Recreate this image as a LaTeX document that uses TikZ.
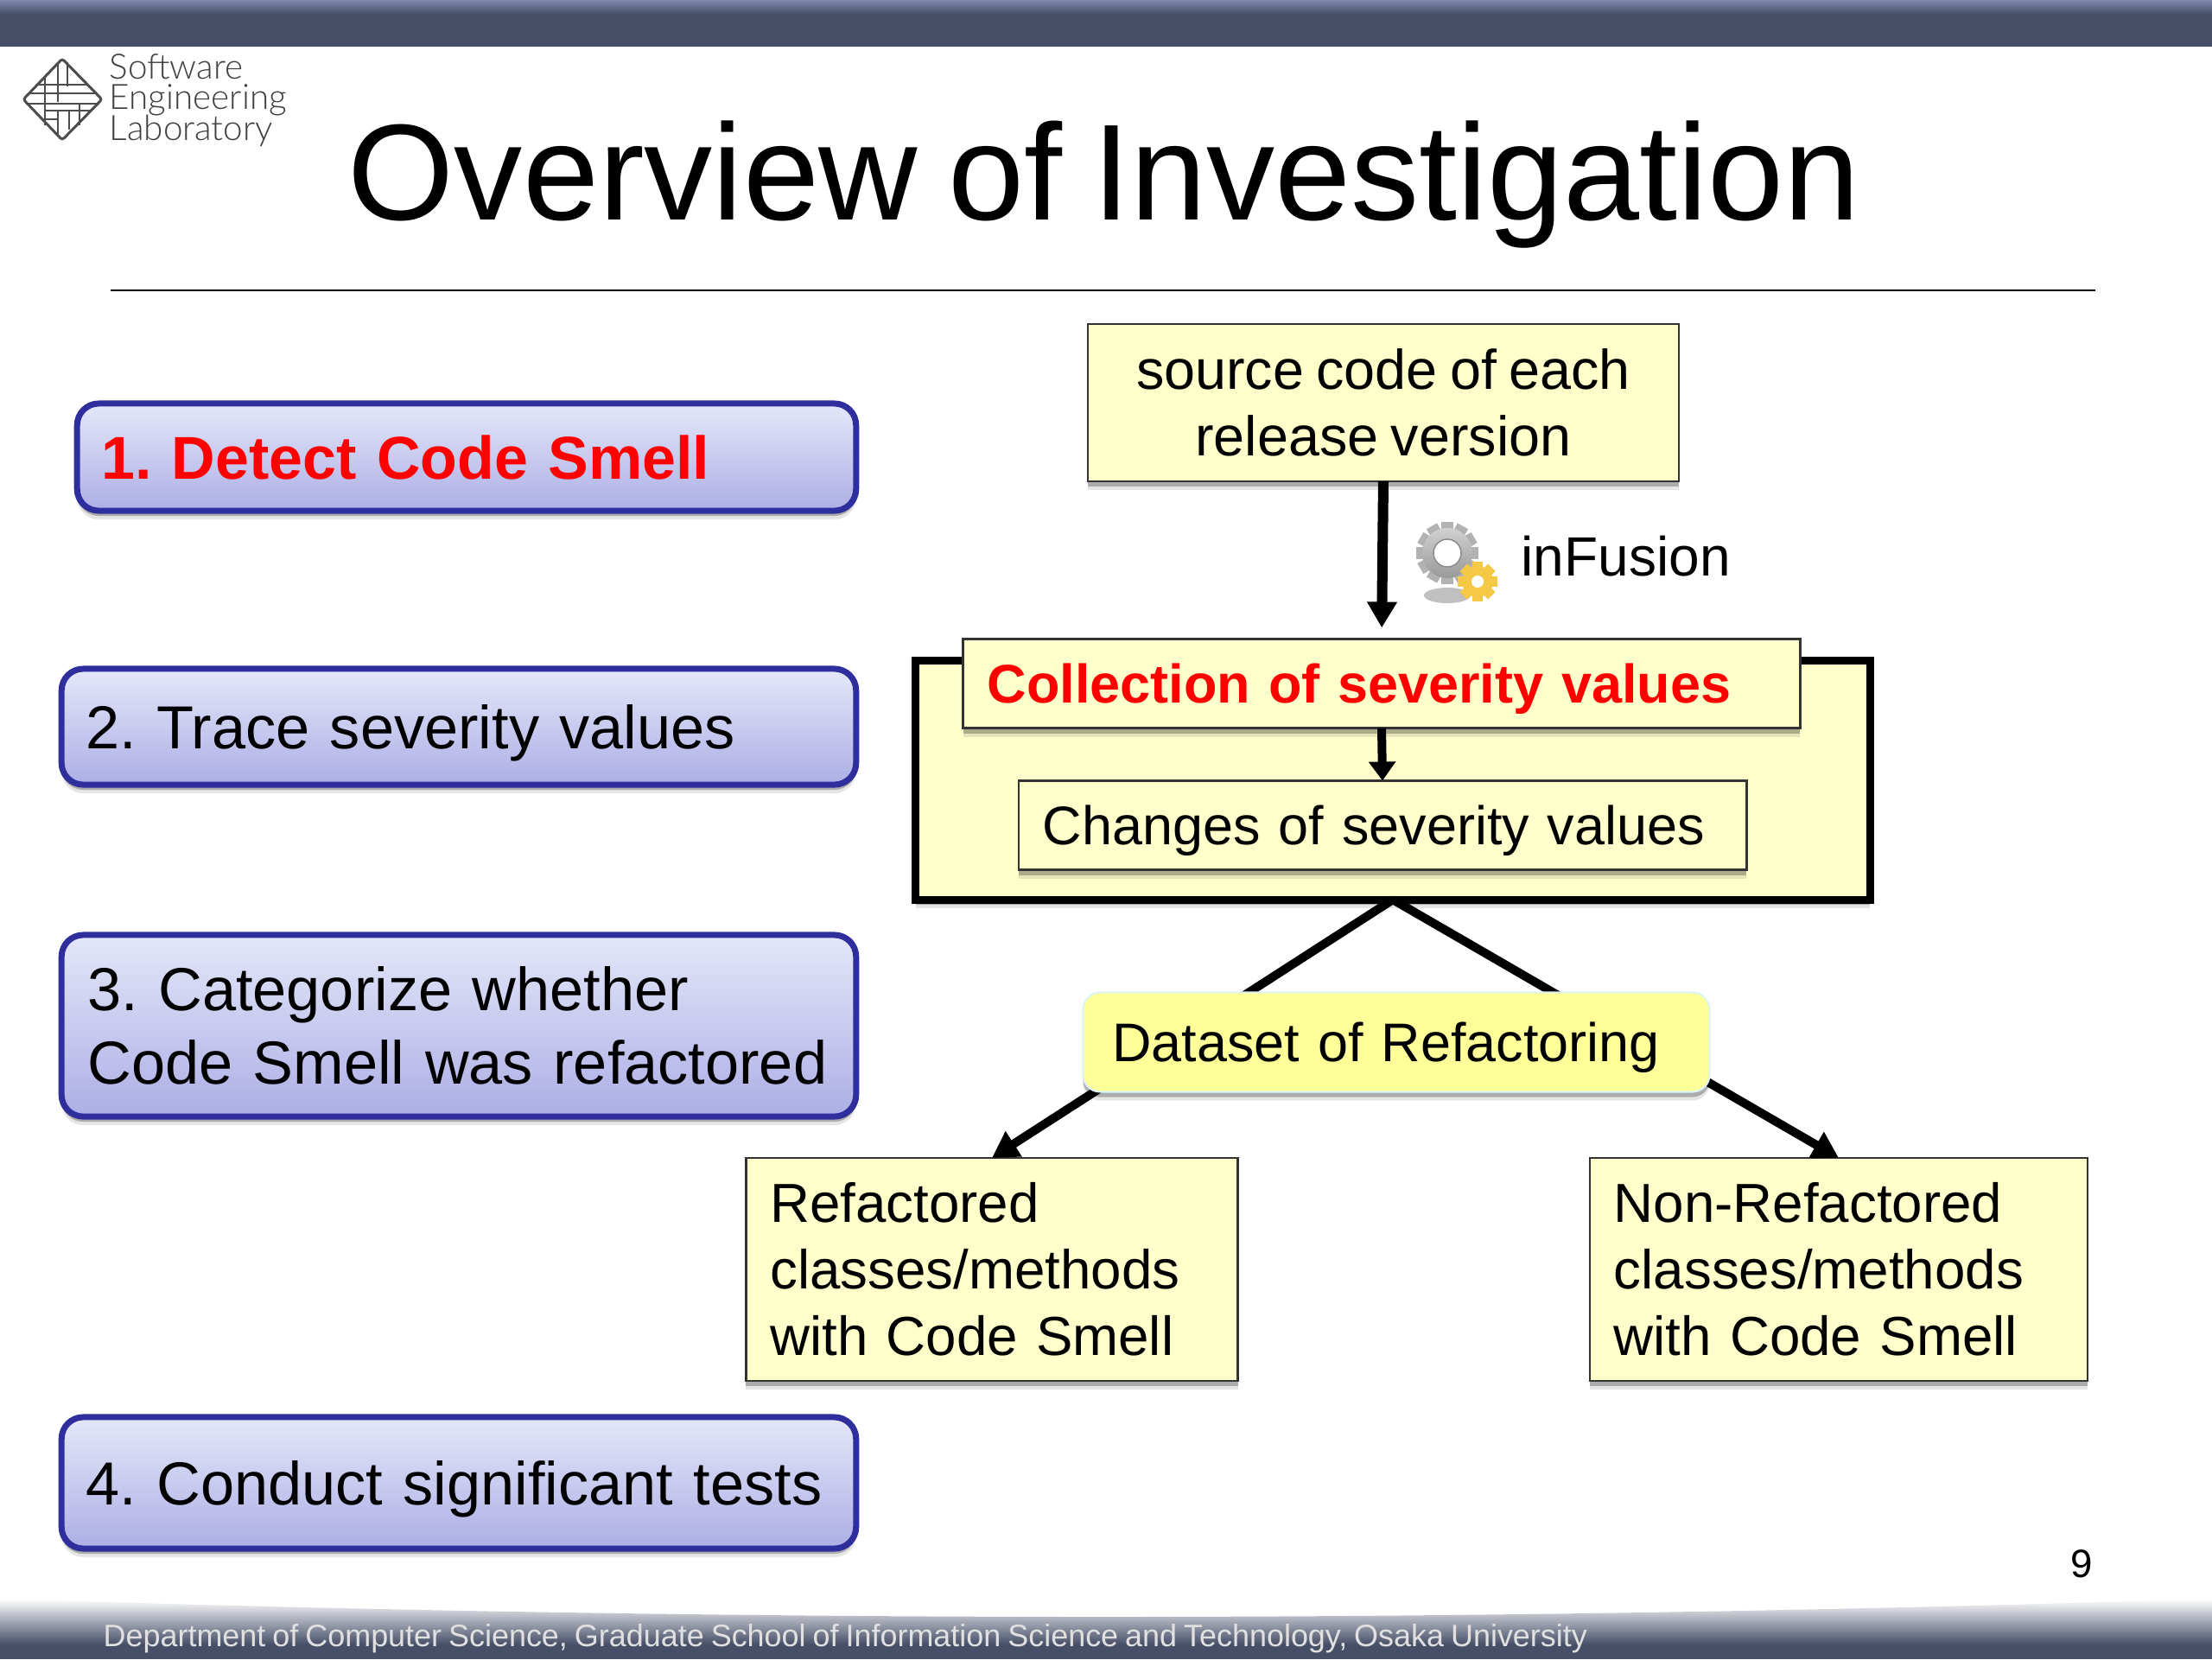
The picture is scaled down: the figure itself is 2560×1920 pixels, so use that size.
\documentclass[tikz,border=0pt]{standalone}
\usepackage{fontspec}
\setmainfont{Liberation Sans}[WordSpace=0.8]
\newfontfamily\logofont{Lato Light}
\newcommand{\logotype}{\logofont\fontsize{11.5}{10}\selectfont\setlength{\lineskiplimit}{-10pt}}
\AtBeginDocument{\frenchspacing}
\usetikzlibrary{arrows.meta, positioning, shadows}
\definecolor{barslate}{RGB}{71,79,104}
\definecolor{barlight}{RGB}{125,135,170}
\definecolor{stepedge}{RGB}{46,47,156}
\definecolor{steptop}{RGB}{228,231,249}
\definecolor{stepbot}{RGB}{173,174,229}
\definecolor{notecream}{RGB}{255,255,204}
\definecolor{datayellow}{RGB}{255,255,153}
\definecolor{gearsilver}{RGB}{178,178,178}
\definecolor{geargold}{RGB}{245,200,70}

\begin{document}
\begin{tikzpicture}[
  x=0.01cm, y=-0.01cm,
  softshadow/.style={drop shadow={shadow xshift=0cm, shadow yshift=-0.1cm, opacity=.1, fill=black},
    drop shadow={shadow xshift=0cm, shadow yshift=-0.06cm, opacity=.25, fill=black}},
  stepbox/.style={draw=stepedge, line width=0.07cm, rounded corners=0.25cm, top color=steptop, bottom color=stepbot,
    softshadow, align=left, text width=8.63cm, inner xsep=0.28cm, inner ysep=0cm,
    font=\fontsize{20}{24.2}\selectfont},
  notebox/.style={draw=black!80, line width=0.025cm, fill=notecream, softshadow, outer sep=0cm, inner xsep=0.28cm, inner ysep=0cm,
    font=\fontsize{18.1}{21.9}\selectfont},
  oneline/.style={text depth=0pt},
  mainarrow/.style={-{Triangle[length=0.3cm, width=0.33cm]}, line width=0.12cm},
  lbl/.style={font=\fontsize{18.2}{21.9}\selectfont}
]
\useasboundingbox (0,0) rectangle (2560,1920);

% header and footer
\fill[barslate] (0,0) rectangle (2560,54);
\shade[top color=barlight, bottom color=barslate] (0,0) rectangle (2560,16);
\begin{scope}
  \clip (0,1850) .. controls (850,1878) and (1700,1878) .. (2560,1850) -- (2560,1920) -- (0,1920) -- cycle;
  \shade[top color=white, bottom color=barslate] (0,1850) rectangle (2560,1903);
  \fill[barslate] (0,1903) rectangle (2560,1920);
\end{scope}
\node[font=\fontsize{10.22}{12}\selectfont, text=black!12, anchor=west, inner sep=0pt] (footer) at (119,1896)
  {Department of Computer Science, Graduate School of Information Science and Technology, Osaka University};
\node[font=\fontsize{13}{15}\selectfont, inner sep=0pt] (pagenum) at (2409,1810) {9};

% logo
\begin{scope}[black!70, line width=0.02cm]
  \foreach \ya/\xa/\xb in {98/45/103, 108/35/110, 120/30/115, 128/52/104}
    \draw (\xa,\ya) -- (\xb,\ya);
  \foreach \xa/\ya/\yb in {52/90/145, 67/72/118, 78/72/100, 67/128/155, 80/128/150, 92/120/145}
    \draw (\xa,\ya) -- (\xa,\yb);
  \draw (52,138) -- (67,138);
  \draw[line width=0.03cm, rounded corners=0.03cm] (72,68) -- (118,115) -- (72,162) -- (27,115) -- cycle;
\end{scope}
\node[font=\logotype, text=black!75, align=left, anchor=west, inner sep=0pt] (logotext) at (126,116)
  {Software\\Engineering\\Laboratory};

% title
\node[font=\fontsize{45}{50}\selectfont, inner sep=0pt] (title) at (1278,214) {Overview of Investigation};
\draw[line width=0.025cm] (128,336) -- (2425,336);

% steps
\node[stepbox, minimum width=9.01cm, minimum height=1.24cm, text width=8.45cm, text=red, font=\bfseries\fontsize{19.9}{24.2}\selectfont] (detect) at (540,529) {1. Detect Code Smell};
\node[stepbox, oneline, minimum width=9.19cm, minimum height=1.34cm] (trace) at (531,841) {2. Trace severity values};
\node[stepbox, minimum width=9.19cm, minimum height=2.1cm, inner xsep=0.3cm, text width=8.59cm] (categorize) at (531,1187) {3. Categorize whether\\Code Smell was refactored};
\node[stepbox, oneline, minimum width=9.19cm, minimum height=1.52cm] (tests) at (531,1716) {4. Conduct significant tests};

% right side
\node[notebox, minimum width=6.84cm, minimum height=1.82cm, align=center, font=\fontsize{18.4}{21.9}\selectfont] (source) at (1601,466) {source code of each\\release version};
\node[draw=black, line width=0.09cm, fill=notecream, softshadow, outer sep=0cm, minimum width=11.04cm, minimum height=2.76cm] (outer) at (1612,903) {};
\node[notebox, oneline, minimum width=9.68cm, minimum height=1.03cm, text width=9.12cm, text=red, font=\bfseries\fontsize{17.9}{21.9}\selectfont] (collection) at (1599,791) {Collection of severity values};
\node[notebox, oneline, minimum width=8.42cm, minimum height=1.03cm, text width=7.86cm, font=\fontsize{17.9}{21.9}\selectfont] (changes) at (1600,955) {Changes of severity values};
\node[notebox, minimum width=5.69cm, minimum height=2.58cm, text width=5.13cm, align=left] (refactored) at (1148,1469) {Refactored\\classes/methods\\with Code Smell};
\node[notebox, minimum width=5.76cm, minimum height=2.58cm, text width=5.2cm, align=left] (nonrefactored) at (2128,1469) {Non-Refactored\\classes/methods\\with Code Smell};

\draw[mainarrow, shorten >=0.13cm] (source.south) -- (collection.north);
\draw[-{Triangle[length=0.22cm, width=0.3cm]}, line width=0.1cm] (collection.south) -- (changes.north);
\draw[mainarrow, line width=0.1cm] (outer.south) -- (refactored.north);
\draw[mainarrow, line width=0.1cm] (outer.south) -- (nonrefactored.north);

\node[draw=white!85!cyan, line width=0.02cm, fill=datayellow, rounded corners=0.2cm, softshadow, oneline, minimum width=7.25cm, minimum height=1.15cm, text width=6.57cm, inner xsep=0.34cm, inner ysep=0cm, font=\fontsize{17.9}{21.9}\selectfont] (dataset) at (1616,1206) {Dataset of Refactoring};

% gear icon
\fill[black!45, opacity=.55] (1675,689) ellipse (0.27cm and 0.09cm);
\foreach \aa in {0,30,...,330} \fill[gearsilver, rotate around={\aa:(1675,640)}] (1668,604) rectangle (1682,616);
\shade[top color=black!18, bottom color=black!40] (1675,640) circle (0.29cm);
\fill[white] (1675,640) circle (0.16cm);
\draw[black!45, line width=0.015cm] (1675,640) circle (0.16cm);
\foreach \aa in {0,45,...,315} \fill[geargold, rotate around={\aa:(1710,673)}] (1704,650) rectangle (1716,660);
\fill[geargold] (1710,673) circle (0.18cm);
\fill[white] (1710,673) circle (0.07cm);
\node[lbl, oneline, anchor=west, inner sep=0pt] (infusion) at (1760,643) {inFusion};
\end{tikzpicture}
\end{document}
